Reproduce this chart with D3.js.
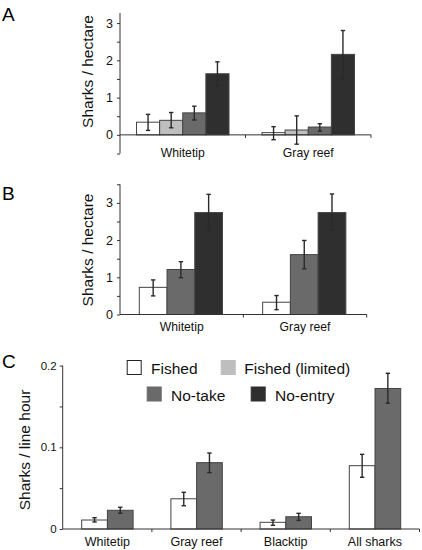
<!DOCTYPE html>
<html><head><meta charset="utf-8">
<script src="https://cdn.jsdelivr.net/npm/d3@7"></script>
<style>
body{margin:0;background:#fff;}
svg{display:block;font-family:"Liberation Sans",Arial,sans-serif;}
</style></head>
<body><svg id="c" width="422" height="550"></svg>
<script>
// ---------- data ----------
const seriesAll = ["Fished", "Fished (limited)", "No-take", "No-entry"];
const categoriesAB = ["Whitetip", "Gray reef"];
const categoriesC = ["Whitetip", "Gray reef", "Blacktip", "All sharks"];

// Panel A: underwater visual census, four zone types
const seriesA = ["Fished", "Fished (limited)", "No-take", "No-entry"];
const meanA = [[0.34, 0.39, 0.59, 1.64], [0.06, 0.13, 0.21, 2.16]];
const lowA  = [[0.12, 0.19, 0.40, 1.31], [-0.13, -0.25, 0.10, 1.50]];
const highA = [[0.55, 0.60, 0.77, 1.96], [0.22, 0.51, 0.30, 2.80]];
const ticksA = [-0.5, 0, 0.5, 1, 1.5, 2, 2.5, 3];
const labelsA = ["", "0", "", "1", "", "2", "", "3"];

// Panel B
const seriesB = ["Fished", "No-take", "No-entry"];
const meanB = [[0.73, 1.21, 2.74], [0.33, 1.61, 2.74]];
const lowB  = [[0.50, 0.99, 2.27], [0.13, 1.23, 2.27]];
const highB = [[0.93, 1.42, 3.23], [0.51, 1.99, 3.24]];
const ticksB = [0, 0.5, 1, 1.5, 2, 2.5, 3, 3.5];
const labelsB = ["0", "", "1", "", "2", "", "3", ""];

// Panel C: baited longline catch rates
const seriesC = ["Fished", "No-take"];
const meanC = [[0.011, 0.0229], [0.037, 0.0812], [0.0082, 0.015], [0.0775, 0.172]];
const lowC  = [[0.0086, 0.0192], [0.0285, 0.069], [0.0045, 0.0106], [0.0633, 0.154]];
const highC = [[0.0138, 0.0266], [0.0449, 0.093], [0.011, 0.0192], [0.0914, 0.1906]];
const ticksC = [0, 0.05, 0.1, 0.15, 0.2];
const labelsC = ["0", "", "0.1", "", "0.2"];

// ---------- styles ----------
const fill = d3.scaleOrdinal(seriesAll, ["#ffffff", "#bebebe", "#6a6a6a", "#2f2f2f"]);
const barStroke = "#444";
const axisColor = "#333";
const errColor = "#2a2a2a";

const svg = d3.select("#c");

function panel(opt) {
  const g = svg.append("g");
  const y = d3.scaleLinear(opt.yDomain, opt.yRange);
  const x = d3.scaleBand(opt.categories, opt.xRange);
  const xi = d3.scaleBand(opt.series, opt.inner);

  // y axis
  const ya = d3.axisLeft(y).tickValues(opt.ticks).tickSize(3).tickSizeOuter(0)
    .tickFormat((d, i) => opt.labels[i]);
  const yg = g.append("g").attr("transform", `translate(${opt.xRange[0]},0)`).call(ya);
  yg.select(".domain").attr("stroke", axisColor).attr("d", `M0,${opt.yRange[0]}V${opt.yRange[1]}`);
  yg.selectAll(".tick line").attr("stroke", axisColor);
  yg.selectAll(".tick text").attr("x", -opt.labelGap).attr("font-size", opt.yFont)
    .attr("fill", "#111").attr("font-family", null);
  yg.attr("font-family", null);

  // bars
  opt.categories.forEach((cat, ci) => {
    opt.series.forEach((s, si) => {
      const v = opt.mean[ci][si];
      const x0 = x(cat) + xi(s);
      g.append("rect")
        .attr("x", x0).attr("width", xi.bandwidth())
        .attr("y", Math.min(y(v), y(0))).attr("height", Math.abs(y(0) - y(v)))
        .attr("fill", fill(s)).attr("stroke", barStroke).attr("stroke-width", 1);
    });
  });

  // x axis line + boundary ticks
  const y0 = y(0);
  g.append("line").attr("x1", opt.xRange[0]).attr("x2", opt.xRange[1])
    .attr("y1", y0).attr("y2", y0).attr("stroke", axisColor);
  opt.categories.forEach(cat => {
    const bx = x(cat) + x.bandwidth();
    g.append("line").attr("x1", bx).attr("x2", bx).attr("y1", y0).attr("y2", y0 + 3)
      .attr("stroke", axisColor);
    g.append("text").attr("x", x(cat) + x.bandwidth() / 2).attr("y", y0 + opt.xLabelOffset)
      .attr("text-anchor", "middle").attr("font-size", opt.xFont).attr("fill", "#111").text(cat);
  });

  // error bars
  opt.categories.forEach((cat, ci) => {
    opt.series.forEach((s, si) => {
      const cx = x(cat) + xi(s) + xi.bandwidth() / 2;
      const lo = y(opt.low[ci][si]), hi = y(opt.high[ci][si]);
      g.append("line").attr("x1", cx).attr("x2", cx).attr("y1", lo).attr("y2", hi)
        .attr("stroke", errColor).attr("stroke-width", 1.4);
      [lo, hi].forEach(yy => g.append("line").attr("x1", cx - 2.2).attr("x2", cx + 2.2)
        .attr("y1", yy).attr("y2", yy).attr("stroke", errColor).attr("stroke-width", 1.4));
    });
  });

  // y title
  g.append("text").attr("transform", `translate(${opt.titleX},${opt.titleY}) rotate(-90)`)
    .attr("text-anchor", "middle").attr("font-size", 15.5).attr("fill", "#111").text(opt.title);
  // panel letter
  g.append("text").attr("x", 2).attr("y", opt.letterY).attr("font-size", 19)
    .attr("fill", "#000").text(opt.letter);
}

panel({
  letter: "A", letterY: 20.7,
  categories: categoriesAB, series: seriesA, mean: meanA, low: lowA, high: highA,
  yDomain: [-0.5, 3.27], yRange: [153.5, 13], ticks: ticksA, labels: labelsA,
  xRange: [120, 371], inner: [16.5, 109], labelGap: 7, yFont: 12.5, xFont: 12.2,
  xLabelOffset: 22, title: "Sharks / hectare", titleX: 93, titleY: 71.5
});

panel({
  letter: "B", letterY: 200,
  categories: categoriesAB, series: seriesB, mean: meanB, low: lowB, high: highB,
  yDomain: [0, 3.5], yRange: [314.5, 184.3], ticks: ticksB, labels: labelsB,
  xRange: [120, 366.7], inner: [19.3, 102.5], labelGap: 7, yFont: 12.5, xFont: 12.2,
  xLabelOffset: 16, title: "Sharks / hectare", titleX: 93, titleY: 250
});

panel({
  letter: "C", letterY: 368.3,
  categories: categoriesC, series: seriesC, mean: meanC, low: lowC, high: highC,
  yDomain: [0, 0.2], yRange: [529, 365.6], ticks: ticksC, labels: labelsC,
  xRange: [62.7, 419.5], inner: [19, 70.4], labelGap: 6, yFont: 11.5, xFont: 12.5,
  xLabelOffset: 16.5, title: "Sharks / line hour", titleX: 29.5, titleY: 450
});

// legend
const legendPos = [[126.7, 360, 151], [220.7, 360, 244.3], [146.7, 386.5, 171], [250.7, 386.5, 275]];
const lg = svg.append("g");
seriesAll.forEach((s, i) => {
  const [bx, by, tx] = legendPos[i];
  lg.append("rect").attr("x", bx + 0.5).attr("y", by + 0.5).attr("width", 14).attr("height", 14)
    .attr("fill", fill(s)).attr("stroke", i === 0 ? "#222" : fill(s)).attr("stroke-width", 1);
  lg.append("text").attr("x", tx).attr("y", by + 14).attr("font-size", 15.5)
    .attr("fill", "#111").text(s);
});
</script></body></html>
